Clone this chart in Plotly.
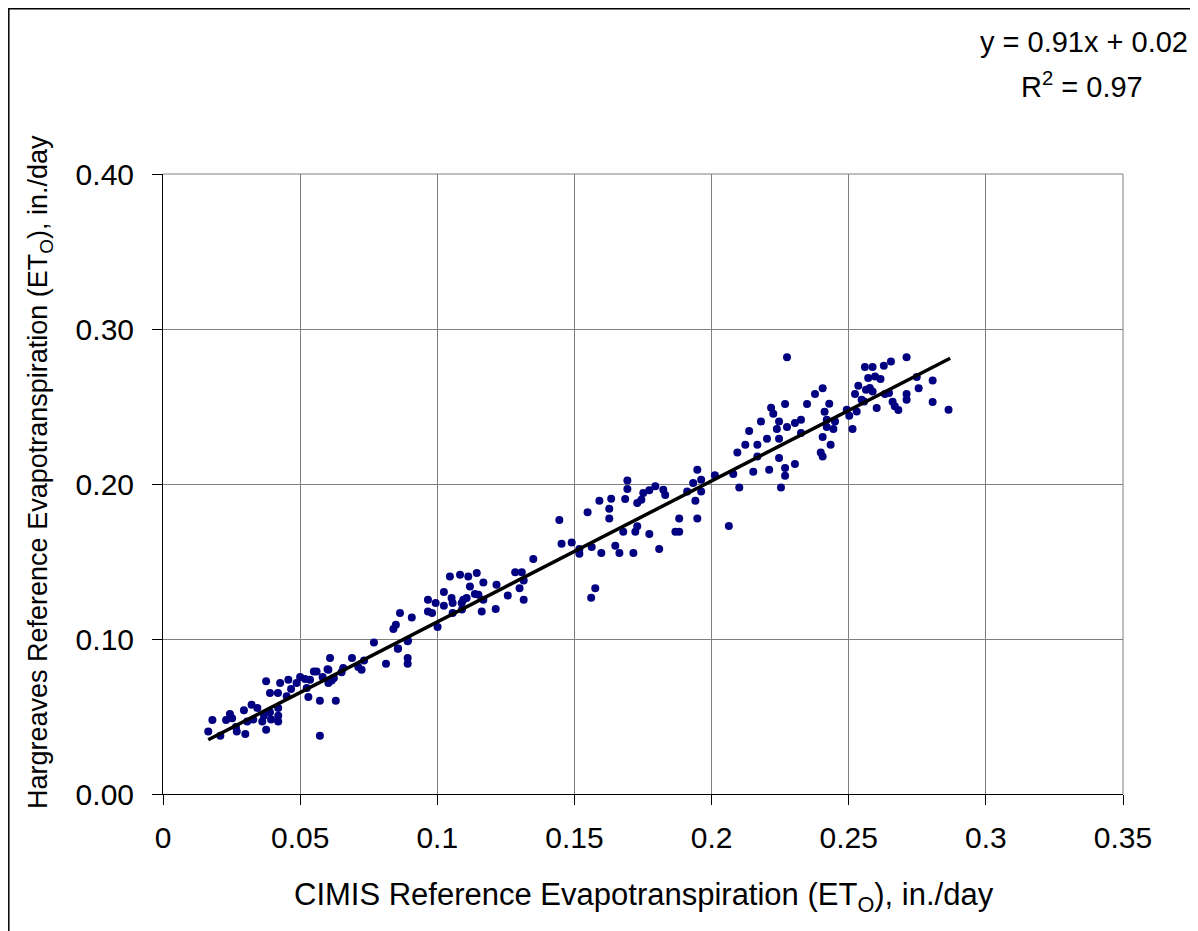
import plotly.graph_objects as go

# CIMIS ETo (x) and Hargreaves ETo (y), in./day
cimis = [
    0.0165, 0.018, 0.0209, 0.023, 0.0244, 0.0252, 0.0266, 0.0269, 0.0295, 0.030,
    0.0307, 0.0323, 0.0329, 0.0344, 0.0362, 0.0368, 0.0376, 0.0376, 0.039, 0.039,
    0.0394, 0.0419, 0.042, 0.042, 0.042, 0.0427, 0.0451, 0.0457, 0.0467, 0.0487,
    0.050, 0.0518, 0.0524, 0.053, 0.0536, 0.055, 0.056, 0.0572, 0.0572, 0.0582,
    0.0603, 0.0603, 0.0609, 0.0615, 0.0623, 0.063, 0.0651, 0.0657, 0.0689, 0.0712,
    0.0724, 0.0733, 0.0769, 0.0813, 0.0856, 0.0892, 0.0892, 0.0892, 0.0600, 0.084,
    0.0849, 0.0857, 0.0864, 0.0893, 0.0907, 0.0966, 0.0966, 0.0981, 0.0994, 0.1001,
    0.1024, 0.1024, 0.1046, 0.1052, 0.1056, 0.1056, 0.1083, 0.1089, 0.1095, 0.1107,
    0.1113, 0.1119, 0.1144, 0.115, 0.1162, 0.1168, 0.1168, 0.1213, 0.1216, 0.109,
    0.1137, 0.1257, 0.1284, 0.1308, 0.130, 0.1315, 0.1315, 0.135, 0.1453, 0.149,
    0.1518, 0.1518, 0.1563, 0.1561, 0.1576, 0.1598, 0.1649, 0.1664, 0.1715, 0.1809,
    0.1445, 0.1548, 0.1591, 0.1627, 0.1627, 0.1634, 0.1678, 0.1685, 0.1693, 0.1693,
    0.1722, 0.1729, 0.1729, 0.1744, 0.1751, 0.1773, 0.1773, 0.1795, 0.1824, 0.1831,
    0.1868, 0.1882, 0.1882, 0.1911, 0.1933, 0.1941, 0.1948, 0.1948, 0.1962, 0.1962,
    0.2012, 0.2063, 0.2079, 0.2094, 0.2101, 0.2123, 0.2152, 0.2167, 0.2167, 0.221,
    0.2246, 0.2253, 0.2268, 0.2268, 0.2304, 0.2398, 0.2405, 0.2434, 0.2137, 0.218,
    0.2202, 0.2217, 0.2225, 0.2238, 0.2246, 0.2246, 0.2268, 0.2275, 0.2275, 0.2304,
    0.2326, 0.2326, 0.2348, 0.2377, 0.2405, 0.2405, 0.2412, 0.242, 0.242, 0.2429,
    0.2444, 0.245, 0.2493, 0.2502, 0.2514, 0.2523, 0.2529, 0.2535, 0.2547, 0.2559,
    0.2563, 0.2571, 0.2577, 0.2587, 0.2556, 0.2587, 0.2596, 0.2602, 0.2616, 0.2628,
    0.2632, 0.2647, 0.2654, 0.266, 0.2668, 0.2681, 0.2711, 0.2711, 0.2711, 0.2748,
    0.2755, 0.2806, 0.2806, 0.2864,
]
hargreaves = [
    0.0404, 0.0477, 0.0376, 0.0477, 0.0516, 0.0488, 0.0432, 0.0404, 0.054, 0.0387,
    0.0468, 0.0576, 0.048, 0.0555, 0.0468, 0.0505, 0.0727, 0.0415, 0.0651, 0.0527,
    0.048, 0.0651, 0.0555, 0.0505, 0.0468, 0.0716, 0.063, 0.0737, 0.0677, 0.0716,
    0.0755, 0.0742, 0.0684, 0.0626, 0.0737, 0.0791, 0.0791, 0.0602, 0.0376, 0.0755,
    0.0802, 0.0716, 0.0877, 0.0733, 0.0748, 0.0602, 0.0785, 0.0813, 0.0877, 0.0819,
    0.0802, 0.0862, 0.0978, 0.0841, 0.0937, 0.0985, 0.0877, 0.0841, 0.0805, 0.1065,
    0.1092, 0.0939, 0.1168, 0.0991, 0.1139, 0.1254, 0.1178, 0.1168, 0.1232, 0.1077,
    0.1303, 0.1215, 0.1404, 0.1265, 0.1232, 0.1168, 0.1415, 0.1232, 0.1254, 0.1265,
    0.1404, 0.1339, 0.1426, 0.1286, 0.1178, 0.1365, 0.1254, 0.1194, 0.135, 0.119,
    0.129, 0.128, 0.143, 0.143, 0.1327, 0.1378, 0.1254, 0.1516, 0.1615, 0.1623,
    0.158, 0.155, 0.1594, 0.1266, 0.1327, 0.1555, 0.1602, 0.1555, 0.1555, 0.158,
    0.1768, 0.1817, 0.1892, 0.1841, 0.1778, 0.1905, 0.1692, 0.1903, 0.2023, 0.1968,
    0.1692, 0.1727, 0.1877, 0.1898, 0.1942, 0.1677, 0.1959, 0.1985, 0.1963, 0.1929,
    0.1692, 0.1692, 0.1778, 0.1952, 0.2006, 0.1892, 0.2092, 0.1778, 0.2028, 0.1952,
    0.2056, 0.1729, 0.2065, 0.2204, 0.1978, 0.2254, 0.2079, 0.2254, 0.2178, 0.2092,
    0.2168, 0.1978, 0.2103, 0.2053, 0.2129, 0.2204, 0.2178, 0.2254, 0.2342, 0.2404,
    0.2292, 0.2492, 0.2454, 0.2355, 0.2404, 0.2292, 0.2516, 0.2817, 0.2368, 0.2394,
    0.2415, 0.2329, 0.2516, 0.2581, 0.2617, 0.2303, 0.2466, 0.2415, 0.2368, 0.2518,
    0.2355, 0.2404, 0.2479, 0.244, 0.2355, 0.2581, 0.2468, 0.2634, 0.2544, 0.2755,
    0.2608, 0.2684, 0.2619, 0.2597, 0.2533, 0.2755, 0.2694, 0.249, 0.2677, 0.2763,
    0.2581, 0.2587, 0.2791, 0.2531, 0.2501, 0.2477, 0.2817, 0.2581, 0.2544, 0.269,
    0.2617, 0.2668, 0.2529, 0.2479,
]

# Linear trendline: y = 0.91x + 0.02
trend_slope = 0.91
trend_intercept = 0.02
trend_x = [0.0165, 0.287]
trend_y = [trend_slope * v + trend_intercept for v in trend_x]

x_ticks = [0, 0.05, 0.1, 0.15, 0.2, 0.25, 0.3, 0.35]
x_labels = ["0", "0.05", "0.1", "0.15", "0.2", "0.25", "0.3", "0.35"]
y_ticks = [0.0, 0.1, 0.2, 0.3, 0.4]

FONT = "Liberation Sans, Arial, sans-serif"

# page offset of the figure div (body margin 8px)
OFF = 8
W, H = 1190, 923
ML, MR, MT, MB = 163 - OFF, 75, 174 - OFF, 137
PW = W - ML - MR   # 960
PH = H - MT - MB   # 620


def px(xp):
    return (xp - 163) / PW


def py(yp):
    return (794 - yp) / PH


fig = go.Figure()
fig.add_trace(go.Scatter(
    x=cimis, y=hargreaves, mode="markers",
    marker=dict(color="#000080", size=8, line=dict(width=0)),
    showlegend=False,
))
fig.add_trace(go.Scatter(
    x=trend_x, y=trend_y, mode="lines",
    line=dict(color="black", width=3.5),
    showlegend=False,
))

fig.update_layout(
    width=W, height=H,
    margin=dict(l=ML, r=MR, t=MT, b=MB),
    paper_bgcolor="white", plot_bgcolor="white",
    font=dict(family=FONT, size=30, color="black"),
    showlegend=False,
)
fig.update_xaxes(
    range=[0, 0.35], tickvals=x_ticks, ticktext=x_labels,
    showgrid=True, gridcolor="#808080", gridwidth=1,
    showline=True, linecolor="black", linewidth=1,
    ticks="outside", ticklen=10, tickcolor="black", tickwidth=1,
    ticklabelstandoff=7, zeroline=False,
    tickfont=dict(size=30, family=FONT),
)
fig.update_yaxes(
    range=[0, 0.4], tickvals=y_ticks, tickformat=".2f",
    showgrid=True, gridcolor="#808080", gridwidth=1,
    showline=True, linecolor="black", linewidth=1,
    ticks="outside", ticklen=10, tickcolor="black", tickwidth=1,
    ticklabelstandoff=12, zeroline=False,
    tickfont=dict(size=30, family=FONT),
)

# gray top and right plot borders
fig.add_shape(type="line", xref="paper", yref="paper", x0=0, x1=1, y0=1, y1=1,
              line=dict(color="#808080", width=1))
fig.add_shape(type="line", xref="paper", yref="paper", x0=1, x1=1, y0=0, y1=1,
              line=dict(color="#808080", width=1))

# chart-area border (left and top edges visible)
fig.add_shape(type="rect", xref="paper", yref="paper",
              x0=px(OFF + 0.8), x1=px(1215),
              y0=py(950), y1=py(OFF + 0.8),
              line=dict(color="black", width=1.5), layer="below")

fig.add_annotation(
    text="CIMIS Reference Evapotranspiration (ET<sub>O</sub>), in./day",
    xref="paper", yref="paper", x=px(644), y=py(897),
    showarrow=False, font=dict(size=31, family=FONT), xanchor="center", yanchor="middle",
)
fig.add_annotation(
    text="Hargreaves Reference Evapotranspiration (ET<sub>O</sub>), in./day",
    xref="paper", yref="paper", x=px(40), y=py(472),
    showarrow=False, textangle=-90, font=dict(size=27, family=FONT),
    xanchor="center", yanchor="middle",
)
fig.add_annotation(
    text="y = 0.91x + 0.02",
    xref="paper", yref="paper", x=px(1084), y=py(42),
    showarrow=False, font=dict(size=29, family=FONT), xanchor="center", yanchor="middle",
)
fig.add_annotation(
    text="R<sup>2</sup> = 0.97",
    xref="paper", yref="paper", x=px(1082), y=py(85),
    showarrow=False, font=dict(size=29, family=FONT), xanchor="center", yanchor="middle",
)

fig.write_html("out.html")
